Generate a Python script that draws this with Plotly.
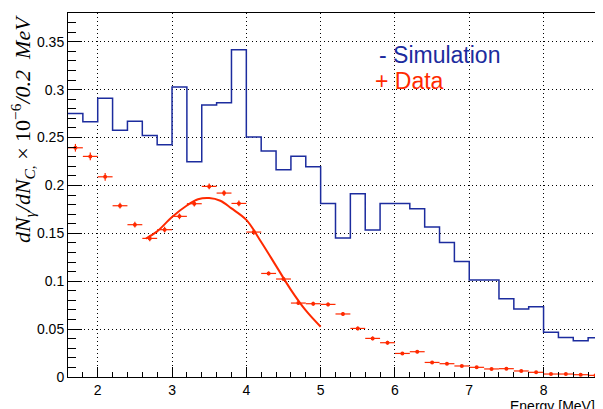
import plotly.graph_objects as go

# ---------------- data ----------------
bin_edges = [round(1.6 + 0.2 * i, 1) for i in range(37)]  # 1.6 ... 8.8
sim_values = [0.275, 0.2665, 0.291, 0.2575, 0.267, 0.252, 0.2425, 0.3027, 0.2247, 0.284,
              0.2863, 0.3416, 0.2505, 0.236, 0.2164, 0.2305, 0.2195, 0.181, 0.145, 0.1913,
              0.1535, 0.181, 0.181, 0.1757, 0.1566, 0.1405, 0.1207, 0.1012, 0.1012, 0.0817,
              0.071, 0.0734, 0.0466, 0.0413, 0.0379, 0.041]

data_x = [1.7, 1.9, 2.1, 2.3, 2.5, 2.7, 2.9, 3.1, 3.3, 3.5, 3.7, 3.9, 4.1, 4.3, 4.5, 4.7,
          4.9, 5.1, 5.3, 5.5, 5.7, 5.9, 6.1, 6.3, 6.5, 6.7, 6.9, 7.1, 7.3, 7.5, 7.7, 7.9,
          8.1, 8.3, 8.5, 8.7]
data_y = [0.2393, 0.2303, 0.209, 0.1788, 0.159, 0.1447, 0.1538, 0.1677, 0.1809, 0.199,
          0.192, 0.1812, 0.1513, 0.1081, 0.1023, 0.0772, 0.0765, 0.0758, 0.0658, 0.0507,
          0.0403, 0.0358, 0.0246, 0.0264, 0.0152, 0.0139, 0.0115, 0.0101, 0.0084, 0.0087,
          0.0063, 0.0049, 0.0031, 0.0031, 0.0024, 0.0017]
data_yerr = [0.004, 0.004, 0.004, 0.003, 0.003, 0.003, 0.003, 0.003, 0.003, 0.003,
             0.003, 0.003, 0.003, 0.002, 0.002, 0.002, 0.002, 0.002, 0.002, 0.002,
             0.002, 0.002, 0.0015, 0.0015, 0.0015, 0.0015, 0.001, 0.001, 0.001, 0.001,
             0.001, 0.001, 0.001, 0.001, 0.001, 0.001]
data_xerr = [0.1] * len(data_x)

fit_x = [2.65, 2.8, 3.0, 3.2, 3.35, 3.5, 3.65, 3.8, 4.0, 4.2, 4.4, 4.6, 4.8, 5.0]
fit_y = [0.1445, 0.152, 0.167, 0.179, 0.1855, 0.1868, 0.184, 0.176, 0.164, 0.141,
         0.116, 0.091, 0.0695, 0.0525]

x_tickvals = [2, 3, 4, 5, 6, 7, 8]
x_ticktext = ["2", "3", "4", "5", "6", "7", "8"]
y_tickvals = [0, 0.05, 0.1, 0.15, 0.2, 0.25, 0.3, 0.35]
y_ticktext = ["0", "0.05", "0.1", "0.15", "0.2", "0.25", "0.3", "0.35"]

BLUE = "#1c2c9e"
RED = "#ff2a00"
FONT = "Liberation Sans, Arial, Helvetica, sans-serif"
GRID_DASH = "1px,3px"

# ---------------- figure ----------------
fig = go.Figure()

# simulation histogram (step outline)
fig.add_trace(go.Scatter(
    x=bin_edges,
    y=sim_values + [sim_values[-1]],
    mode="lines",
    line=dict(color=BLUE, width=1.5, shape="hv"),
    hoverinfo="skip",
    showlegend=False,
))

# fit curve
fig.add_trace(go.Scatter(
    x=fit_x, y=fit_y,
    mode="lines",
    line=dict(color=RED, width=2, shape="spline", smoothing=1.0),
    showlegend=False,
))

# data points
fig.add_trace(go.Scatter(
    x=data_x, y=data_y,
    mode="markers",
    marker=dict(color=RED, size=4, symbol="circle"),
    error_x=dict(type="data", array=data_xerr, color=RED, thickness=1.2, width=0),
    error_y=dict(type="data", array=data_yerr, color=RED, thickness=1.2, width=0),
    showlegend=False,
))

# the page body has an 8px margin, so the figure is drawn 8px smaller
fig.update_layout(
    width=595, height=401,
    margin=dict(l=60, r=0, t=5, b=32),
    paper_bgcolor="white",
    plot_bgcolor="white",
    font=dict(family=FONT, size=14, color="black"),
    showlegend=False,
    xaxis=dict(
        range=[1.6, 8.8],
        tickvals=x_tickvals, ticktext=x_ticktext,
        ticks="inside", ticklen=10, tickcolor="black", tickwidth=1,
        minor=dict(ticks="inside", ticklen=5, dtick=0.2, tick0=0, tickcolor="black",
                   showgrid=False),
        showline=True, linecolor="black", linewidth=1, mirror=True,
        showgrid=True, gridcolor="black", griddash=GRID_DASH, gridwidth=1,
        zeroline=False,
        tickfont=dict(size=14, family=FONT, color="black"),
    ),
    yaxis=dict(
        range=[0, 0.38],
        tickvals=y_tickvals, ticktext=y_ticktext,
        ticks="inside", ticklen=14, tickcolor="black", tickwidth=1,
        minor=dict(ticks="inside", ticklen=8, dtick=0.01, tick0=0, tickcolor="black",
                   showgrid=False),
        showline=True, linecolor="black", linewidth=1, mirror=True,
        showgrid=True, gridcolor="black", griddash=GRID_DASH, gridwidth=1,
        zeroline=False,
        tickfont=dict(size=14, family=FONT, color="black"),
    ),
    annotations=[
        dict(text="- Simulation", x=5.76, y=0.3364, xref="x", yref="y",
             xanchor="left", yanchor="middle", showarrow=False,
             font=dict(size=23, family=FONT, color=BLUE)),
        dict(text="+ Data", x=5.70, y=0.3088, xref="x", yref="y",
             xanchor="left", yanchor="middle", showarrow=False,
             font=dict(size=23, family=FONT, color=RED)),
        dict(text="Energy [MeV]", x=0.988, y=-0.053, xref="paper", yref="paper",
             xanchor="right", yanchor="top", showarrow=False,
             font=dict(size=14, family=FONT, color="black")),
        dict(text="<i>dN</i><sub><i>γ</i></sub><i>/dN</i><sub><i>C</i>,</sub> × 10<sup>−6</sup><i>/0.2  MeV</i>",
             x=-0.086, y=1.0, xref="paper", yref="paper",
             xanchor="center", yanchor="top", textangle=-90, showarrow=False,
             font=dict(size=22, family="Liberation Serif, Times New Roman, serif",
                       color="black")),
    ],
)

fig.write_html("out.html")
